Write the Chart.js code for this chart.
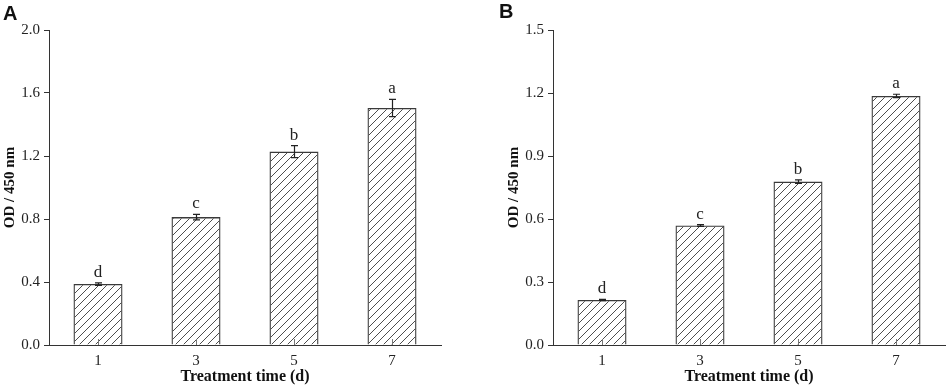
<!DOCTYPE html>
<html>
<head>
<meta charset="utf-8">
<script src="https://cdn.jsdelivr.net/npm/chart.js@4"></script>
<style>
  body { margin: 0; background: #fff; }
  #wrap { position: relative; width: 948px; height: 390px; overflow: hidden; }
  .box { position: absolute; top: 0; height: 390px; }
  .panel { position: absolute; font: bold 20px "Liberation Sans", Arial, sans-serif; color: #111; }
</style>
</head>
<body>
<div id="wrap">
  <div class="box" style="left:0;width:470px"><canvas id="chartA"></canvas></div>
  <div class="box" style="left:470px;width:478px"><canvas id="chartB"></canvas></div>
  <div class="panel" style="left:3px;top:2px">A</div>
  <div class="panel" style="left:499px;top:0px">B</div>
</div>
<script>
// ===================== DATOS =====================
const dias = ["1", "3", "5", "7"];

const valoresA = [0.387, 0.812, 1.228, 1.505];
const erroresA = [0.008, 0.018, 0.038, 0.055];
const letrasA = ["d", "c", "b", "a"];

const valoresB = [0.214, 0.569, 0.778, 1.186];
const erroresB = [0.003, 0.004, 0.008, 0.008];
const letrasB = ["d", "c", "b", "a"];

const ticksA = [0.0, 0.4, 0.8, 1.2, 1.6, 2.0];
const ticksB = [0.0, 0.3, 0.6, 0.9, 1.2, 1.5];

const SERIF = "'Liberation Serif', 'Times New Roman', serif";
const OSCURO = "#333";

// ===================== PATRON RAYADO =====================
function crearRayado() {
  const c = document.createElement("canvas");
  c.width = 8;
  c.height = 8;
  const g = c.getContext("2d");
  g.strokeStyle = "#3a3a3a";
  g.lineWidth = 0.9;
  g.beginPath();
  g.moveTo(0, 8); g.lineTo(8, 0);
  g.moveTo(-2, 2); g.lineTo(2, -2);
  g.moveTo(6, 10); g.lineTo(10, 6);
  g.stroke();
  const ctx = document.createElement("canvas").getContext("2d");
  return ctx.createPattern(c, "repeat");
}

// ===================== PLUGIN ERRORES + LETRAS =====================
const pluginErrores = {
  id: "errores",
  afterDatasetsDraw(chart, args, opts) {
    const { ctx, scales } = chart;
    const meta = chart.getDatasetMeta(0);
    const vals = chart.data.datasets[0].data;
    ctx.save();
    // pequeñas marcas interiores del eje x
    ctx.strokeStyle = "#777";
    ctx.lineWidth = 1;
    dias.forEach((d, i) => {
      const x = Math.round(scales.x.getPixelForTick(i)) + 0.5;
      ctx.beginPath();
      ctx.moveTo(x, scales.x.top);
      ctx.lineTo(x, scales.x.top - 6);
      ctx.stroke();
    });
    ctx.strokeStyle = "#222";
    ctx.fillStyle = "#222";
    ctx.font = "17px " + SERIF;
    ctx.textAlign = "center";
    ctx.textBaseline = "alphabetic";
    meta.data.forEach((bar, i) => {
      const x = Math.round(bar.x) + 0.5;
      const yTop = scales.y.getPixelForValue(vals[i] + opts.errores[i]);
      const yBot = scales.y.getPixelForValue(vals[i] - opts.errores[i]);
      ctx.lineWidth = 1.2;
      ctx.beginPath();
      ctx.moveTo(x, yTop); ctx.lineTo(x, yBot);
      ctx.moveTo(x - 3.5, yTop); ctx.lineTo(x + 3.5, yTop);
      ctx.moveTo(x - 3.5, yBot); ctx.lineTo(x + 3.5, yBot);
      ctx.stroke();
      ctx.fillText(opts.letras[i], bar.x, yTop - 6);
    });
    ctx.restore();
  },
};

// ===================== CREAR GRAFICO =====================
function crearGrafico(id, valores, errores, letras, ticks, max, padIzq, padDer) {
  const ctx = document.getElementById(id).getContext("2d");
  return new Chart(ctx, {
    type: "bar",
    data: {
      labels: dias,
      datasets: [
        {
          data: valores,
          backgroundColor: crearRayado(),
          borderColor: "#3a3a3a",
          borderWidth: 1.3,
          barPercentage: 0.5,
          categoryPercentage: 1,
        },
      ],
    },
    options: {
      responsive: true,
      maintainAspectRatio: false,
      animation: false,
      layout: { padding: { top: 30, bottom: 0, left: padIzq, right: padDer } },
      plugins: {
        legend: { display: false },
        tooltip: { enabled: false },
        errores: { errores, letras },
      },
      scales: {
        x: {
          grid: { display: true, drawOnChartArea: false, drawTicks: false },
          border: { display: true, color: OSCURO, width: 1 },
          ticks: { color: "#222", padding: 7, font: { family: SERIF, size: 15 } },
          title: {
            display: true,
            text: "Treatment time (d)",
            color: "#111",
            padding: { top: 0, bottom: 4 },
            font: { family: SERIF, size: 16, weight: "bold" },
          },
          afterFit: (s) => { s.height = 45; },
        },
        y: {
          min: 0,
          max: max,
          afterBuildTicks: (s) => { s.ticks = ticks.map((v) => ({ value: v })); },
          grid: { display: true, drawOnChartArea: false, drawTicks: true, tickLength: 5, tickColor: OSCURO },
          border: { display: true, color: OSCURO, width: 1 },
          ticks: {
            color: "#222",
            padding: 4,
            font: { family: SERIF, size: 15 },
            callback: (v) => Number(v).toFixed(1),
          },
          title: {
            display: true,
            text: "OD / 450 nm",
            color: "#111",
            padding: { top: 1, bottom: 0 },
            font: { family: SERIF, size: 15, weight: "bold" },
          },
          afterFit: (s) => { s.width = 49; },
        },
      },
    },
    plugins: [pluginErrores],
  });
}

crearGrafico("chartA", valoresA, erroresA, letrasA, ticksA, 2.0, 0, 29);
crearGrafico("chartB", valoresB, erroresB, letrasB, ticksB, 1.5, 34, 3);
</script>
</body>
</html>
